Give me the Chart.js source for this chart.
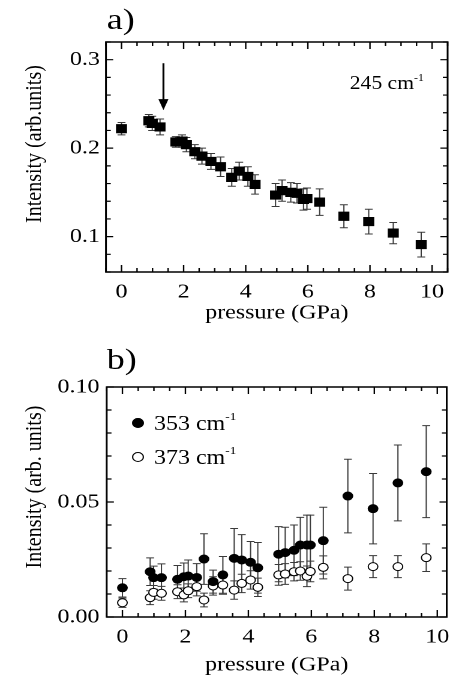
<!DOCTYPE html>
<html>
<head>
<meta charset="utf-8">
<script src="https://cdn.jsdelivr.net/npm/chart.js@4.4.0/dist/chart.umd.min.js"></script>
<style>
  html, body { margin: 0; padding: 0; background: #fff; }
  body { width: 457px; height: 677px; overflow: hidden; position: relative; }
  /* the original figure is stretched horizontally, so the whole drawing is too */
  #wrap { position: absolute; left: 0; top: 0; width: 381px; height: 677px;
          transform: scaleX(1.2); transform-origin: 0 0;
          font-family: 'Liberation Serif', 'Times New Roman', serif; color: #000; }
  canvas { position: absolute; left: 0; }
  .lbl { position: absolute; white-space: nowrap; line-height: 1; }
  .lbl sup { font-size: 0.55em; position: relative; top: -0.15em; vertical-align: top; }
  .ytitle { position: absolute; white-space: nowrap; font-size: 20px; line-height: 1;
            transform: translate(-50%, -50%) rotate(-90deg); }
  .dot { position: absolute; width: 8px; height: 8px; border-radius: 50%;
         border: 1px solid #000; transform: translate(-50%, -50%); }
</style>
</head>
<body>
<div id="wrap">
  <canvas id="chartA" width="381" height="335" style="top:0"></canvas>
  <canvas id="chartB" width="381" height="342" style="top:335px"></canvas>

  <div class="lbl" style="left:89px; top:4px; font-size:30px">a)</div>
  <div class="lbl" style="left:89px; top:344px; font-size:30px">b)</div>
  <div class="lbl" style="left:291.5px; top:74px; font-size:18px">245 cm<sup>-1</sup></div>

  <div class="dot" style="left:115.3px; top:423.3px; background:#000"></div>
  <div class="lbl" style="left:128.3px; top:413px; font-size:20px">353 cm<sup>-1</sup></div>
  <div class="dot" style="left:115.3px; top:456.7px; background:#fff"></div>
  <div class="lbl" style="left:128.3px; top:446.7px; font-size:20px">373 cm<sup>-1</sup></div>

  <div class="ytitle" style="left:26.7px; top:143.5px">Intensity (arb.units)</div>
  <div class="ytitle" style="left:26.7px; top:487px">Intensity (arb. units)</div>
</div>

<script>
// ===== DATA =====
const pressure = [0, 0.88, 0.99, 1.24, 1.75, 1.95, 2.09, 2.36, 2.59, 2.88, 3.19, 3.55, 3.79,
  4.07, 4.30, 4.96, 5.17, 5.45, 5.65, 5.86, 5.97, 6.38, 7.16, 7.96, 8.75, 9.65]

// labelled pressure ticks (both panels)
const xTickLabels = [0, 2, 4, 6, 8, 10]

// a) 245 cm-1
const int245 = [0.222, 0.231, 0.228, 0.224, 0.207, 0.208, 0.204, 0.196, 0.191, 0.185, 0.179,
  0.167, 0.174, 0.168, 0.159, 0.147, 0.152, 0.150, 0.149, 0.142, 0.143, 0.139, 0.123, 0.117,
  0.104, 0.091]
const err245 = [0.007, 0.007, 0.008, 0.009, 0.006, 0.007, 0.008, 0.008, 0.009, 0.009, 0.011,
  0.010, 0.010, 0.011, 0.011, 0.013, 0.012, 0.011, 0.011, 0.012, 0.012, 0.015, 0.013, 0.014,
  0.012, 0.014]

// b) 353 cm-1 (filled) and 373 cm-1 (open)
const int353 = [0.0127, 0.0197, 0.0171, 0.0171, 0.0164, 0.0175, 0.0178, 0.0172, 0.0252, 0.0154,
  0.0183, 0.0255, 0.0248, 0.0238, 0.0214, 0.0273, 0.0280, 0.0290, 0.0313, 0.0313, 0.0313,
  0.0332, 0.0526, 0.0471, 0.0583, 0.0632]
const err353 = [0.004, 0.006, 0.005, 0.006, 0.006, 0.006, 0.007, 0.006, 0.011, 0.005, 0.008,
  0.013, 0.011, 0.009, 0.011, 0.012, 0.011, 0.011, 0.012, 0.013, 0.013, 0.0145, 0.016, 0.0153,
  0.0165, 0.020]
const int373 = [0.0062, 0.0084, 0.0107, 0.0103, 0.0110, 0.0096, 0.0114, 0.0132, 0.0074, 0.0135,
  0.0139, 0.0117, 0.0146, 0.0161, 0.0129, 0.0183, 0.0187, 0.0197, 0.0200, 0.0177, 0.0198,
  0.0216, 0.0167, 0.0219, 0.0219, 0.0258]
const err373 = [0.002, 0.003, 0.003, 0.003, 0.003, 0.003, 0.003, 0.004, 0.003, 0.004, 0.004,
  0.004, 0.004, 0.004, 0.004, 0.0045, 0.0045, 0.004, 0.004, 0.0045, 0.0045, 0.005, 0.005,
  0.0048, 0.0048, 0.006]

// arrow in panel a (pressure, from intensity, to intensity)
const arrowX = 1.35
const arrowFrom = 0.296
const arrowTo = 0.243

const FONT = "'Liberation Serif', 'Times New Roman', serif"

// ===== PLUGINS =====
const errorBars = {
  id: 'errorBars',
  beforeDatasetsDraw(chart) {
    const { ctx, scales: { x, y } } = chart
    chart.data.datasets.forEach(ds => {
      if (!ds.errors) return
      ctx.save()
      ctx.strokeStyle = '#3a3a3a'
      ctx.lineWidth = 1
      ds.data.forEach((pt, i) => {
        const px = x.getPixelForValue(pt.x)
        const top = y.getPixelForValue(pt.y + ds.errors[i])
        const bot = y.getPixelForValue(pt.y - ds.errors[i])
        ctx.beginPath()
        ctx.moveTo(px, top)
        ctx.lineTo(px, bot)
        ctx.moveTo(px - 3.3, top)
        ctx.lineTo(px + 3.3, top)
        ctx.moveTo(px - 3.3, bot)
        ctx.lineTo(px + 3.3, bot)
        ctx.stroke()
      })
      ctx.restore()
    })
  }
}

function isXMajor(v) {
  return xTickLabels.some(m => Math.abs(m - v) < 1e-6)
}

// frame on four sides with inward ticks, plus the pressure tick labels
const frameTicks = {
  id: 'frameTicks',
  afterDraw(chart) {
    const { ctx, chartArea: a, scales: { x, y } } = chart
    ctx.save()
    ctx.strokeStyle = '#000'
    ctx.lineWidth = 1.5
    ctx.strokeRect(a.left, a.top, a.right - a.left, a.bottom - a.top)
    ctx.lineWidth = 1.2
    ctx.beginPath()
    x.ticks.forEach(t => {
      const px = x.getPixelForValue(t.value)
      const len = isXMajor(t.value) ? 7 : 4
      ctx.moveTo(px, a.bottom)
      ctx.lineTo(px, a.bottom - len)
      ctx.moveTo(px, a.top)
      ctx.lineTo(px, a.top + len)
    })
    y.ticks.forEach(t => {
      const py = y.getPixelForValue(t.value)
      const len = t.label ? 6 : 4
      ctx.moveTo(a.left, py)
      ctx.lineTo(a.left + len, py)
      ctx.moveTo(a.right, py)
      ctx.lineTo(a.right - len, py)
    })
    ctx.stroke()

    ctx.fillStyle = '#000'
    ctx.font = '20px ' + FONT
    ctx.textAlign = 'center'
    ctx.textBaseline = 'middle'
    xTickLabels.forEach(v => {
      if (v < x.min || v > x.max) return
      ctx.fillText(String(v), x.getPixelForValue(v), a.bottom + 20)
    })
    ctx.restore()
  }
}

const arrowPlugin = {
  id: 'arrowPlugin',
  afterDatasetsDraw(chart, args, opts) {
    if (!opts.show) return
    const { ctx, scales: { x, y } } = chart
    const px = x.getPixelForValue(arrowX)
    const y0 = y.getPixelForValue(arrowFrom)
    const y1 = y.getPixelForValue(arrowTo)
    ctx.save()
    ctx.strokeStyle = '#000'
    ctx.fillStyle = '#000'
    ctx.lineWidth = 1.6
    ctx.beginPath()
    ctx.moveTo(px, y0)
    ctx.lineTo(px, y1 - 10)
    ctx.stroke()
    ctx.beginPath()
    ctx.moveTo(px - 4.2, y1 - 11)
    ctx.lineTo(px + 4.2, y1 - 11)
    ctx.lineTo(px, y1)
    ctx.closePath()
    ctx.fill()
    ctx.restore()
  }
}

// ===== SCALES =====
function xScale(max, xHeight, titlePad) {
  return {
    type: 'linear',
    min: -0.5,
    max: max,
    grid: { display: false, drawTicks: false },
    border: { display: false },
    // ticks every 0.5 inside the axis; their labels are drawn by frameTicks
    afterBuildTicks: s => {
      const list = []
      for (let v = -0.5; v <= max + 1e-9; v += 0.5) list.push({ value: Math.round(v * 10) / 10 })
      s.ticks = list
    },
    ticks: {
      stepSize: 0.5,
      autoSkip: false,
      maxRotation: 0,
      padding: 8,
      font: { family: FONT, size: 20 },
      callback: () => ''
    },
    title: {
      display: true,
      text: 'pressure (GPa)',
      color: '#000',
      font: { family: FONT, size: 20 },
      padding: { top: 0, bottom: titlePad }
    },
    afterFit: s => { s.height = xHeight }
  }
}

function yScale(min, max, step, major, digits, width, pad) {
  return {
    type: 'linear',
    min: min,
    max: max,
    grid: { display: false, drawTicks: false },
    border: { display: false },
    ticks: {
      stepSize: step,
      autoSkip: false,
      padding: pad,
      color: '#000',
      font: { family: FONT, size: 20 },
      callback: v => (Math.abs(v / major - Math.round(v / major)) < 1e-6 ? v.toFixed(digits) : '')
    },
    afterFit: s => { s.width = width }
  }
}

function points(ys) {
  return pressure.map((p, i) => ({ x: p, y: ys[i] }))
}

const common = {
  responsive: false,
  animation: false,
  devicePixelRatio: 2,
  events: [],
  plugins: { legend: { display: false }, tooltip: { enabled: false } }
}

// ===== PANEL A =====
new Chart(document.getElementById('chartA'), {
  type: 'scatter',
  data: {
    datasets: [{
      data: points(int245),
      errors: err245,
      pointStyle: 'rect',
      pointRadius: 6.5,
      backgroundColor: '#000',
      borderColor: '#000',
      borderWidth: 0
    }]
  },
  options: {
    ...common,
    layout: { padding: { left: 0, top: 42, right: 3.5, bottom: 0 } },
    plugins: { ...common.plugins, arrowPlugin: { show: true } },
    scales: {
      x: xScale(10.5, 63, 10),
      y: yScale(0.06, 0.32, 0.02, 0.1, 1, 88.3, 5)
    }
  },
  plugins: [errorBars, frameTicks, arrowPlugin]
})

// ===== PANEL B =====
new Chart(document.getElementById('chartB'), {
  type: 'scatter',
  data: {
    datasets: [{
      data: points(int353),
      errors: err353,
      pointRadius: 4,
      backgroundColor: '#000',
      borderColor: '#000',
      borderWidth: 1
    }, {
      data: points(int373),
      errors: err373,
      pointRadius: 4,
      backgroundColor: '#fff',
      borderColor: '#000',
      borderWidth: 1
    }]
  },
  options: {
    ...common,
    layout: { padding: { left: 0, top: 52, right: 8.75, bottom: 0 } },
    plugins: { ...common.plugins, arrowPlugin: { show: false } },
    scales: {
      x: xScale(10.3, 60, 0),
      y: yScale(0, 0.1, 0.01, 0.05, 2, 88.9, 6)
    }
  },
  plugins: [errorBars, frameTicks, arrowPlugin]
})
</script>
</body>
</html>
